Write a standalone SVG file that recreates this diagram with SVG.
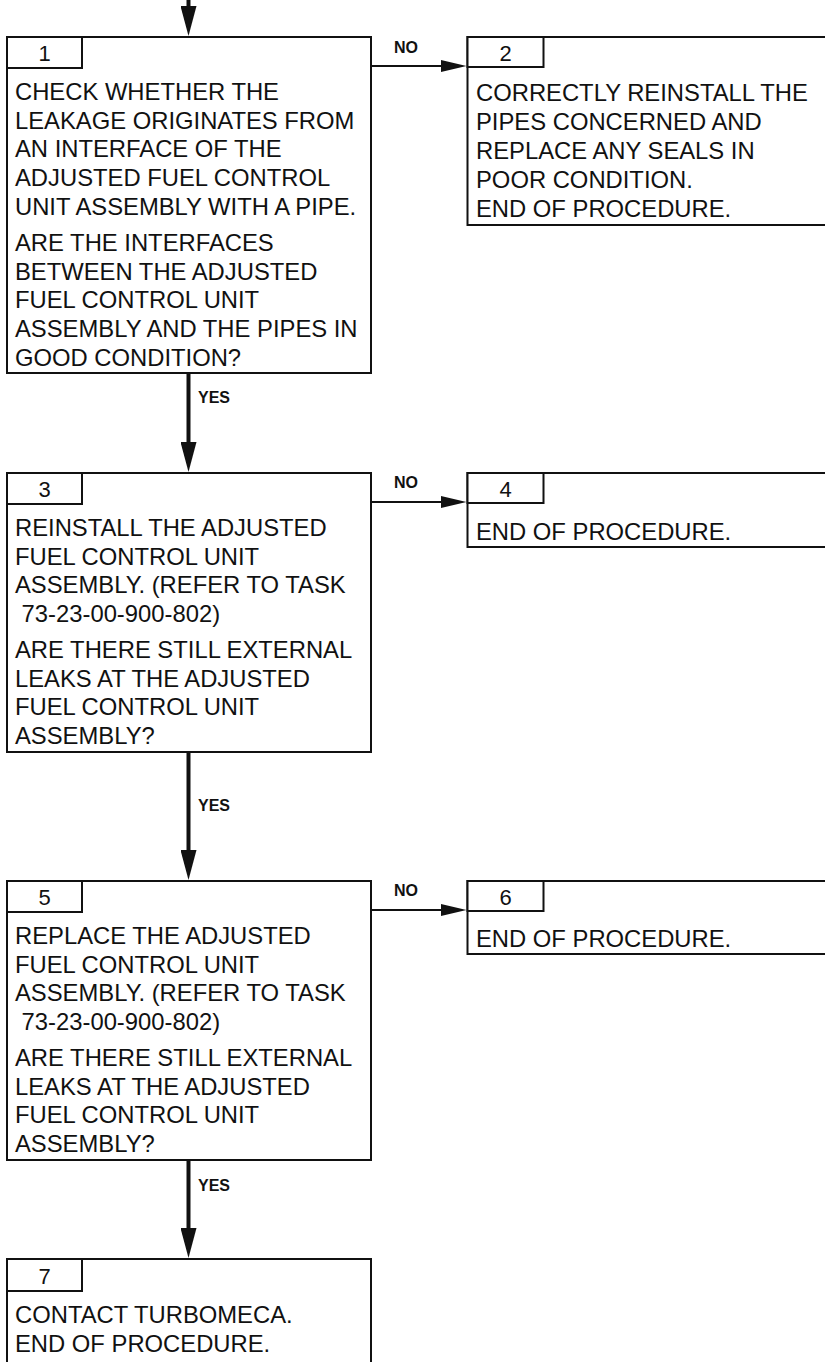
<svg xmlns="http://www.w3.org/2000/svg" width="825" height="1362" viewBox="0 0 825 1362">
<style>
.box{fill:#fff;stroke:#111;stroke-width:2}
.t{font-family:"Liberation Sans",Arial,Helvetica,sans-serif;font-size:23.8px;fill:#111}
.n{font-family:"Liberation Sans",Arial,Helvetica,sans-serif;font-size:22px;fill:#111;text-anchor:middle}
.lbl{font-family:"Liberation Sans",Arial,Helvetica,sans-serif;font-size:16px;font-weight:bold;fill:#111}
.thin{stroke:#111;stroke-width:2;fill:none}
.thick{stroke:#111;stroke-width:4;fill:none}
</style>
<defs>
<marker id="headThin" viewBox="0 0 26 12" markerWidth="26" markerHeight="12" refX="6" refY="6" orient="auto" markerUnits="userSpaceOnUse">
<path d="M0,0 L26,6 L0,12 Z" fill="#111"/>
</marker>
<marker id="headThick" viewBox="0 0 30 16" markerWidth="30" markerHeight="16" refX="10" refY="8" orient="auto" markerUnits="userSpaceOnUse">
<path d="M0,0 L30,8 L0,16 Z" fill="#111"/>
</marker>
</defs>
<rect width="825" height="1362" fill="#fff"/>

<g id="connectors">
<line class="thick" x1="188.5" y1="-2" x2="188.5" y2="16" marker-end="url(#headThick)"/>
<line class="thick" x1="188.5" y1="373" x2="188.5" y2="452" marker-end="url(#headThick)"/>
<line class="thick" x1="188.5" y1="752" x2="188.5" y2="860" marker-end="url(#headThick)"/>
<line class="thick" x1="188.5" y1="1160" x2="188.5" y2="1238" marker-end="url(#headThick)"/>
<line class="thin" x1="371" y1="66" x2="446.5" y2="66" marker-end="url(#headThin)"/>
<line class="thin" x1="371" y1="502" x2="446.5" y2="502" marker-end="url(#headThin)"/>
<line class="thin" x1="371" y1="910" x2="446.5" y2="910" marker-end="url(#headThin)"/>
<text class="lbl" x="198" y="403">YES</text>
<text class="lbl" x="198" y="811">YES</text>
<text class="lbl" x="198" y="1191">YES</text>
<text class="lbl" x="394" y="53">NO</text>
<text class="lbl" x="394" y="488">NO</text>
<text class="lbl" x="394" y="896">NO</text>
</g>

<g id="node1">
<rect class="box" x="7" y="37" width="364" height="336"/>
<rect class="box" x="7" y="37" width="75" height="31"/>
<text class="n" x="44.5" y="61">1</text>
<text class="t">
<tspan x="15" y="100">CHECK WHETHER THE</tspan>
<tspan x="15" y="128.7">LEAKAGE ORIGINATES FROM</tspan>
<tspan x="15" y="157.4">AN INTERFACE OF THE</tspan>
<tspan x="15" y="186.1">ADJUSTED FUEL CONTROL</tspan>
<tspan x="15" y="214.8">UNIT ASSEMBLY WITH A PIPE.</tspan>
<tspan x="15" y="251">ARE THE INTERFACES</tspan>
<tspan x="15" y="279.7">BETWEEN THE ADJUSTED</tspan>
<tspan x="15" y="308.4">FUEL CONTROL UNIT</tspan>
<tspan x="15" y="337.1">ASSEMBLY AND THE PIPES IN</tspan>
<tspan x="15" y="365.8">GOOD CONDITION?</tspan>
</text>
</g>

<g id="node2">
<rect class="box" x="467.5" y="37" width="370" height="188"/>
<rect class="box" x="467.5" y="37" width="76" height="30"/>
<text class="n" x="505.5" y="61">2</text>
<text class="t">
<tspan x="476" y="101">CORRECTLY REINSTALL THE</tspan>
<tspan x="476" y="130">PIPES CONCERNED AND</tspan>
<tspan x="476" y="159">REPLACE ANY SEALS IN</tspan>
<tspan x="476" y="188">POOR CONDITION.</tspan>
<tspan x="476" y="217">END OF PROCEDURE.</tspan>
</text>
</g>

<g id="node3">
<rect class="box" x="7" y="473" width="364" height="279"/>
<rect class="box" x="7" y="473" width="75" height="31"/>
<text class="n" x="44.5" y="497">3</text>
<text class="t" xml:space="preserve"><tspan x="15" y="536">REINSTALL THE ADJUSTED</tspan><tspan x="15" y="564.7">FUEL CONTROL UNIT</tspan><tspan x="15" y="593.4">ASSEMBLY. (REFER TO TASK</tspan><tspan x="15" y="622.1"> 73-23-00-900-802)</tspan><tspan x="15" y="658">ARE THERE STILL EXTERNAL</tspan><tspan x="15" y="686.7">LEAKS AT THE ADJUSTED</tspan><tspan x="15" y="715.4">FUEL CONTROL UNIT</tspan><tspan x="15" y="744.1">ASSEMBLY?</tspan></text>
</g>

<g id="node4">
<rect class="box" x="467.5" y="473" width="370" height="74"/>
<rect class="box" x="467.5" y="473" width="76" height="30"/>
<text class="n" x="505.5" y="497">4</text>
<text class="t" x="476" y="540">END OF PROCEDURE.</text>
</g>

<g id="node5">
<rect class="box" x="7" y="881" width="364" height="279"/>
<rect class="box" x="7" y="881" width="75" height="31"/>
<text class="n" x="44.5" y="905">5</text>
<text class="t" xml:space="preserve"><tspan x="15" y="944">REPLACE THE ADJUSTED</tspan><tspan x="15" y="972.7">FUEL CONTROL UNIT</tspan><tspan x="15" y="1001.4">ASSEMBLY. (REFER TO TASK</tspan><tspan x="15" y="1030.1"> 73-23-00-900-802)</tspan><tspan x="15" y="1066">ARE THERE STILL EXTERNAL</tspan><tspan x="15" y="1094.7">LEAKS AT THE ADJUSTED</tspan><tspan x="15" y="1123.4">FUEL CONTROL UNIT</tspan><tspan x="15" y="1152.1">ASSEMBLY?</tspan></text>
</g>

<g id="node6">
<rect class="box" x="467.5" y="881" width="370" height="73"/>
<rect class="box" x="467.5" y="881" width="76" height="30"/>
<text class="n" x="505.5" y="905">6</text>
<text class="t" x="476" y="947">END OF PROCEDURE.</text>
</g>

<g id="node7">
<rect class="box" x="7" y="1259" width="364" height="130"/>
<rect class="box" x="7" y="1259" width="75" height="32"/>
<text class="n" x="44.5" y="1284">7</text>
<text class="t">
<tspan x="15" y="1323">CONTACT TURBOMECA.</tspan>
<tspan x="15" y="1352">END OF PROCEDURE.</tspan>
</text>
</g>
</svg>
